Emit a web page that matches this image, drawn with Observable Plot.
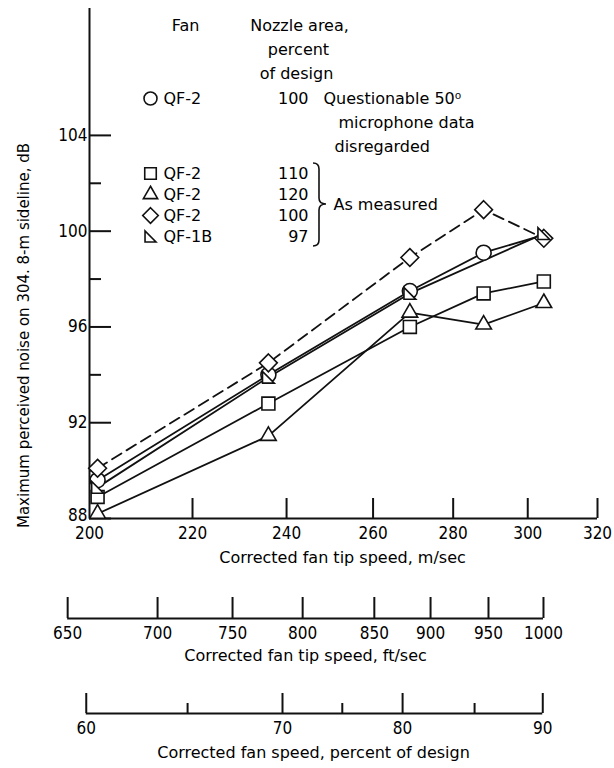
<!DOCTYPE html>
<html><head><meta charset="utf-8">
<script src="https://cdn.jsdelivr.net/npm/d3@7"></script>
<script src="https://cdn.jsdelivr.net/npm/@observablehq/plot@0.6"></script>
<style>
html,body{margin:0;padding:0;background:#fff;}
#chart{width:614px;height:768px;overflow:hidden;background:#fff;}
#chart svg{display:block;}
</style></head><body><div id="chart"></div>
<script>
// ---------- data ----------
const tipSpeedMs = [201.5, 236, 269, 288, 304.5];
const noiseQF2_100_corr = [89.6, 94.0, 97.5, 99.1, 99.85];
const circleMarked = [true, true, true, true, false];
const noiseQF2_110 = [88.9, 92.8, 96.0, 97.4, 97.9];
const noiseQF2_120 = [88.2, 91.45, 96.6, 96.1, 97.0];
const noiseQF2_100 = [90.1, 94.5, 98.9, 100.9, 99.7];
const tipSpeedMsQF1B = [201.5, 236, 269, 304.5];
const noiseQF1B_97 = [89.3, 93.9, 97.4, 99.9];

const yMajorTicks = [88, 92, 96, 100, 104];
const yMinorTicks = [90, 94, 98, 102];
const xTicksMs = [200, 220, 240, 260, 280, 300, 320];
const ftTickLabels = [650, 700, 750, 800, 850, 900, 950, 1000];
const ftTickAsMs = [196.0, 213.0, 228.3, 243.6, 260.3, 274.2, 289.3, 304.4];
const pctMajorLabels = [60, 70, 80, 90];
const pctMajorAsMs = [199.4, 239.1, 267.2, 304.2];
const pctMinorLabels = [65, 75, 85];
const pctMinorAsMs = [219.0, 252.7, 285.6];

const legendFans = ["QF-2", "QF-2", "QF-2", "QF-2", "QF-1B"];
const legendNozzle = ["100", "110", "120", "100", "97"];
const yTitle = "Maximum perceived noise on 304. 8-m sideline, dB";
const xTitleMs = "Corrected fan tip speed, m/sec";
const xTitleFt = "Corrected fan tip speed, ft/sec";
const xTitlePct = "Corrected fan speed, percent of design";

// ---------- build ----------
const rightTriangle = {draw(ctx, size) {
  const s = Math.sqrt(size) * 0.95;
  ctx.moveTo(-s / 2, -s / 2); ctx.lineTo(-s / 2, s / 2); ctx.lineTo(s / 2, s / 2); ctx.closePath();
}};
const series = [
  {speeds: tipSpeedMs, noise: noiseQF2_100_corr, marked: circleMarked, symbol: "circle", r: 7.5, lr: 6.5, dash: null},
  {speeds: tipSpeedMs, noise: noiseQF2_110, symbol: "square", r: 7.3, lr: 6.5, dash: null},
  {speeds: tipSpeedMs, noise: noiseQF2_120, symbol: "triangle", r: 5.8, lr: 5.3, dash: null},
  {speeds: tipSpeedMs, noise: noiseQF2_100, symbol: "diamond2", r: 8, lr: 7, dash: "11,6"},
  {speeds: tipSpeedMsQF1B, noise: noiseQF1B_97, symbol: rightTriangle, r: 7, lr: 6.5, dash: null}
];
series.forEach(s => s.rows = s.speeds.map((x, i) => ({x, y: s.noise[i], marked: s.marked ? s.marked[i] : true})));

const W = 614, ML = 89, MR = 17;
const FW = W - ML - MR;
const MT = 8, MB = 47, H1 = 565, FH = H1 - MT - MB;
const font = "DejaVu Sans";
const tickFont = "'Liberation Sans Narrow', 'DejaVu Sans Condensed', sans-serif";
const tickSize = 17;
const stroke = "#111";

const legendRowDy = [90, 165, 186, 207, 228];
const legendMarks = [];
const lt = (text, dx, dy, textAnchor = "middle") =>
  Plot.text([text], {frameAnchor: "top-left", dx, dy, textAnchor, lineAnchor: "middle"});
series.forEach((s, i) => {
  legendMarks.push(Plot.dot([0], {frameAnchor: "top-left", dx: 61, dy: legendRowDy[i], symbol: s.symbol, r: s.lr, fill: "white", stroke, strokeWidth: 1.6}));
  legendMarks.push(lt(legendFans[i], 74, legendRowDy[i], "start"));
  legendMarks.push(lt(legendNozzle[i], 219, legendRowDy[i], "end"));
});
legendMarks.push(
  lt("Fan", 96, 17),
  lt("Nozzle area,", 210, 17),
  lt("percent", 209, 41),
  lt("of design", 207, 65),
  lt("Questionable 50\u2070", 234, 90, "start"),
  lt("microphone data", 249, 114, "start"),
  lt("disregarded", 245, 138, "start"),
  lt("As measured", 244, 196, "start")
);
function brace(index, scales, values, dims) {
  const ox = dims.marginLeft, oy = dims.marginTop;
  const xt = ox + 224, xs = ox + 230, xp = ox + 237, yt = oy + 155, ym = oy + 196, yb = oy + 238;
  const d = `M${xt},${yt} Q${xs},${yt} ${xs},${yt + 6} L${xs},${ym - 6} Q${xs},${ym} ${xp},${ym} Q${xs},${ym} ${xs},${ym + 6} L${xs},${yb - 6} Q${xs},${yb} ${xt},${yb}`;
  return d3.create("svg:path").attr("d", d).attr("fill", "none").attr("stroke", stroke).attr("stroke-width", 1.6).node();
}

const main = Plot.plot({
  width: W, height: H1, marginLeft: ML, marginRight: MR, marginTop: MT, marginBottom: MB,
  style: {fontFamily: font, fontSize: "16px", background: "white", color: "black", overflow: "visible"},
  x: {type: "log", domain: [200, 320], axis: null},
  y: {domain: [88, 109.3], axis: null},
  marks: [
    Plot.ruleX([200], {stroke, strokeWidth: 2}),
    Plot.ruleY([88], {stroke, strokeWidth: 2}),
    Plot.tickY(yMajorTicks, {y: d => d, insetRight: FW - 22, stroke, strokeWidth: 2}),
    Plot.tickY(yMinorTicks, {y: d => d, insetRight: FW - 12, stroke, strokeWidth: 2}),
    Plot.tickX(xTicksMs.slice(1), {x: d => d, insetTop: FH - 20, stroke, strokeWidth: 2}),
    Plot.text(yMajorTicks.slice(1), {y: d => d, text: d => String(d), frameAnchor: "left", textAnchor: "end", lineAnchor: "middle", dx: -2, fontFamily: tickFont, fontSize: tickSize}),
    Plot.text(yMajorTicks.slice(0, 1), {y: d => d, text: d => String(d), frameAnchor: "left", textAnchor: "end", lineAnchor: "bottom", dx: -2, dy: 2, fontFamily: tickFont, fontSize: tickSize}),
    Plot.text(xTicksMs, {x: d => d, text: d => String(d), frameAnchor: "bottom", lineAnchor: "middle", dy: 15, fontFamily: tickFont, fontSize: tickSize}),
    Plot.text([xTitleMs], {frameAnchor: "bottom", lineAnchor: "middle", dx: -1, dy: 39}),
    Plot.text([yTitle], {frameAnchor: "left", textAnchor: "middle", lineAnchor: "middle", rotate: -90, dx: -65, dy: 72, fontSize: 15}),
    ...series.map(s => Plot.line(s.rows, {x: "x", y: "y", stroke, strokeWidth: 1.8, strokeDasharray: s.dash})),
    ...series.map(s => Plot.dot(s.rows.filter(d => d.marked), {x: "x", y: "y", symbol: s.symbol, r: s.r, fill: "white", stroke, strokeWidth: 1.6})),
    ...legendMarks,
    brace
  ]
});

function secondaryAxis(height, marginTop, marginBottom, majorMs, majorLabels, minorMs, title, titleDx, titleDy) {
  const major = majorMs.map((ms, i) => ({ms, label: String(majorLabels[i])}));
  const minor = minorMs.map(ms => ({ms}));
  return Plot.plot({
    width: W, height, marginLeft: ML, marginRight: MR, marginTop, marginBottom,
    style: {fontFamily: font, fontSize: "16px", background: "white", color: "black", overflow: "visible"},
    x: {type: "log", domain: [200, 320], axis: null},
    y: {domain: [0, 1], axis: null},
    marks: [
      Plot.ruleY([0], {x1: d3.min(majorMs), x2: d3.max(majorMs), stroke, strokeWidth: 2}),
      Plot.ruleX(major, {x: "ms", y1: 0, y2: 1, stroke, strokeWidth: 2}),
      Plot.ruleX(minor, {x: "ms", y1: 0, y2: 0.5, stroke, strokeWidth: 2}),
      Plot.text(major, {x: "ms", y: 0, dy: 15, lineAnchor: "middle", text: "label", fontFamily: tickFont, fontSize: tickSize}),
      Plot.text([title], {frameAnchor: "bottom", lineAnchor: "middle", dx: titleDx, dy: titleDy})
    ]
  });
}
const ftAxis = secondaryAxis(100, 32, 47, ftTickAsMs, ftTickLabels, [], xTitleFt, -38, 37);
const pctAxis = secondaryAxis(103, 28, 55, pctMajorAsMs, pctMajorLabels, pctMinorAsMs, xTitlePct, -30, 39);

const root = document.getElementById("chart");
root.append(main, ftAxis, pctAxis);
</script></body></html>
